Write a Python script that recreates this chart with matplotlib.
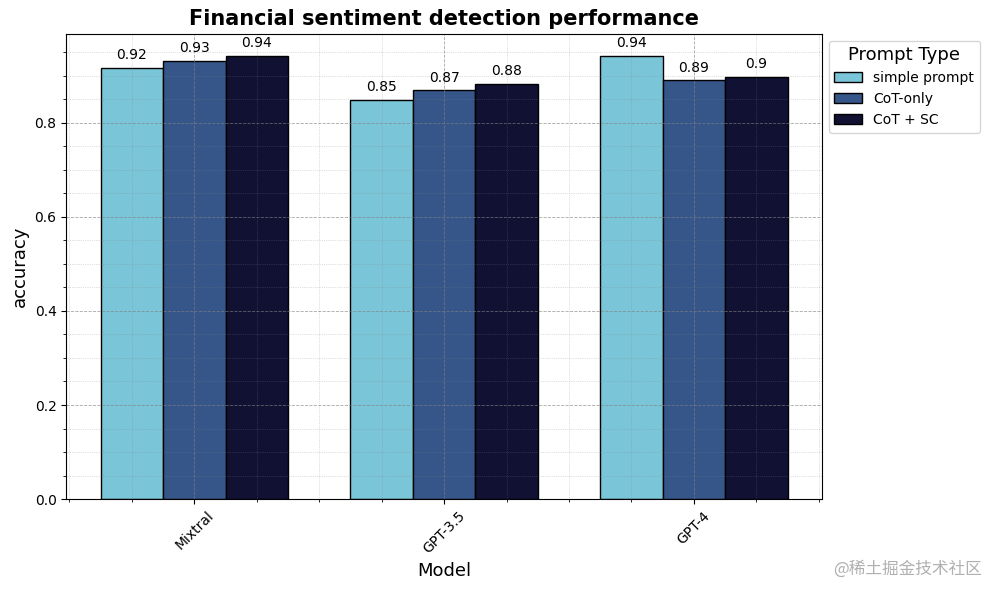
import numpy as np
import matplotlib
matplotlib.use("Agg")
import matplotlib.pyplot as plt
from matplotlib.ticker import AutoMinorLocator

# data
models = ["Mixtral", "GPT-3.5", "GPT-4"]
prompt_types = ["simple prompt", "CoT-only", "CoT + SC"]
simple_prompt = [0.916, 0.849, 0.942]
cot_only = [0.931, 0.869, 0.890]
cot_sc = [0.942, 0.882, 0.897]
colors = ["#7bc5d8", "#36568a", "#111134"]

series = [simple_prompt, cot_only, cot_sc]
x = np.arange(len(models))
width = 0.25

fig, ax = plt.subplots(figsize=(9.89, 5.9), dpi=100)

for i, (vals, name, c) in enumerate(zip(series, prompt_types, colors)):
    bars = ax.bar(x + (i - 1) * width, vals, width, label=name, color=c, edgecolor="black")
    for b, v in zip(bars, vals):
        ax.annotate(f"{round(v, 2):g}", (b.get_x() + b.get_width() / 2, b.get_height()),
                    xytext=(0, 4), textcoords="offset points", ha="center", va="bottom", fontsize=10)

ax.set_title("Financial sentiment detection performance", fontsize=15, fontweight="bold")
ax.set_xlabel("Model", fontsize=13)
ax.set_ylabel("accuracy", fontsize=13)
ax.set_xticks(x)
ax.set_xticklabels(models, rotation=45)

ax.xaxis.set_minor_locator(AutoMinorLocator(4))
ax.yaxis.set_minor_locator(AutoMinorLocator(4))
ax.grid(which="major", linestyle="--", linewidth=0.6, color="gray", alpha=0.7)
ax.grid(which="minor", linestyle=":", linewidth=0.5, color="gray", alpha=0.5)

ax.legend(title="Prompt Type", title_fontsize=13, bbox_to_anchor=(1, 1), loc="upper left")

fig.subplots_adjust(left=0.067, right=0.831, top=0.943, bottom=0.154)
fig.text(0.993, 0.02, "@稀土掘金技术社区", ha="right", va="bottom", fontsize=12,
         color="#b0b0b0", family=["Noto Sans CJK SC", "DejaVu Sans"])
fig.savefig("out.png", dpi=100)
